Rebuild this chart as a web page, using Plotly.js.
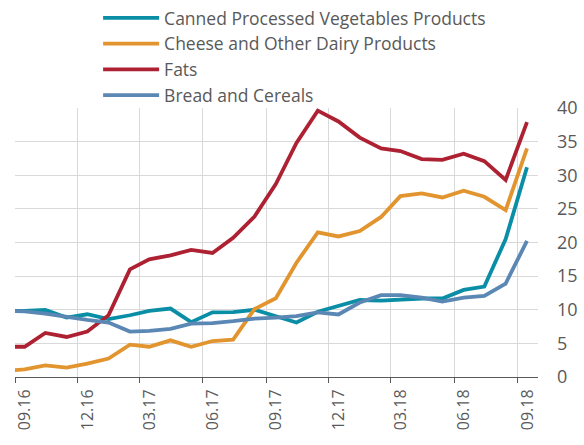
<!DOCTYPE html>
<html>
<head>
<meta charset="utf-8">
<script src="https://cdn.plot.ly/plotly-3.0.1.min.js"></script>
<style>html,body{margin:0;padding:0;background:#fff;}</style>
</head>
<body>
<div id="chart" style="width:584px;height:445px;"></div>
<script>
// Monthly observation dates (mid-month); first one lies just left of the visible range
const months = ["2016-08-15","2016-09-15","2016-10-15","2016-11-15","2016-12-15",
  "2017-01-15","2017-02-15","2017-03-15","2017-04-15","2017-05-15","2017-06-15",
  "2017-07-15","2017-08-15","2017-09-15","2017-10-15","2017-11-15","2017-12-15",
  "2018-01-15","2018-02-15","2018-03-15","2018-04-15","2018-05-15","2018-06-15",
  "2018-07-15","2018-08-15","2018-09-15"];

const canned = [9.82, 9.82, 9.97, 8.84, 9.33, 8.6, 9.18, 9.82, 10.18, 8.15, 9.62,
  9.65, 10.0, 9.05, 8.1, 9.7, 10.5, 11.45, 11.37, 11.56, 11.67, 11.67, 12.95,
  13.45, 20.5, 31.2];
const cheese = [0.85, 1.15, 1.74, 1.4, 2.0, 2.75, 4.8, 4.5, 5.45, 4.5, 5.35,
  5.55, 10.1, 11.7, 17.0, 21.5, 20.9, 21.7, 23.8, 26.9, 27.3, 26.7, 27.7,
  26.8, 24.8, 34.0];
const fats = [4.5, 4.5, 6.55, 5.95, 6.75, 9.2, 16.0, 17.5, 18.1, 18.9, 18.45,
  20.7, 23.85, 28.7, 34.8, 39.6, 38.0, 35.6, 34.0, 33.6, 32.4, 32.3, 33.2,
  32.1, 29.3, 37.9];
const bread = [9.85, 9.77, 9.43, 8.93, 8.48, 8.1, 6.75, 6.85, 7.15, 7.95, 8.0,
  8.3, 8.69, 8.84, 9.05, 9.6, 9.3, 11.07, 12.16, 12.16, 11.8, 11.22, 11.8,
  12.05, 13.9, 20.24];

const seriesNames = ["Canned Processed Vegetables Products",
  "Cheese and Other Dairy Products", "Fats", "Bread and Cereals"];
const seriesColors = ["#0a8ea6", "#e2942f", "#ad2133", "#5b87b4"];

const tickDates = ["2016-09-01","2016-12-01","2017-03-01","2017-06-01",
  "2017-09-01","2017-12-01","2018-03-01","2018-06-01","2018-09-01"];
const tickLabels = ["09.16","12.16","03.17","06.17","09.17","12.17","03.18","06.18","09.18"];

const allValues = [canned, cheese, fats, bread];
const traces = allValues.map((vals, i) => ({
  type: "scatter",
  mode: "lines",
  x: months,
  y: vals,
  name: seriesNames[i],
  line: {color: seriesColors[i], width: 3.8},
  hoverinfo: "x+y+name"
}));

const font = "'Open Sans', Lato, 'DejaVu Sans', sans-serif";
const layout = {
  width: 584,
  height: 445,
  margin: {l: 15, r: 46, t: 108, b: 68, autoexpand: false},
  paper_bgcolor: "#ffffff",
  plot_bgcolor: "#ffffff",
  font: {family: font, color: "#595959"},
  showlegend: true,
  legend: {
    x: 0.168, y: 1.02, xref: "container", yref: "container",
    xanchor: "left", yanchor: "top",
    font: {size: 17.5, color: "#595959", family: font},
    bgcolor: "rgba(0,0,0,0)",
    itemwidth: 56,
    tracegroupgap: 0
  },
  xaxis: {
    type: "date",
    range: ["2016-09-01", "2018-10-01"],
    tickmode: "array",
    tickvals: tickDates,
    ticktext: tickLabels,
    tickangle: -90,
    ticks: "outside",
    ticklen: 5,
    tickcolor: "#595959",
    ticklabelshift: 10,
    showline: true,
    linecolor: "#595959",
    linewidth: 1,
    showgrid: true,
    gridcolor: "#d9d9d9",
    gridwidth: 1,
    zeroline: false,
    tickfont: {size: 16, color: "#595959", family: font}
  },
  yaxis: {
    side: "right",
    range: [0, 40],
    tickmode: "linear",
    tick0: 0,
    dtick: 5,
    ticks: "",
    ticklabelstandoff: 18,
    showline: false,
    showgrid: true,
    gridcolor: "#d9d9d9",
    gridwidth: 1,
    zeroline: false,
    tickfont: {size: 18, color: "#595959", family: font}
  }
};

Plotly.newPlot("chart", traces, layout, {displayModeBar: false, staticPlot: true});
</script>
</body>
</html>
